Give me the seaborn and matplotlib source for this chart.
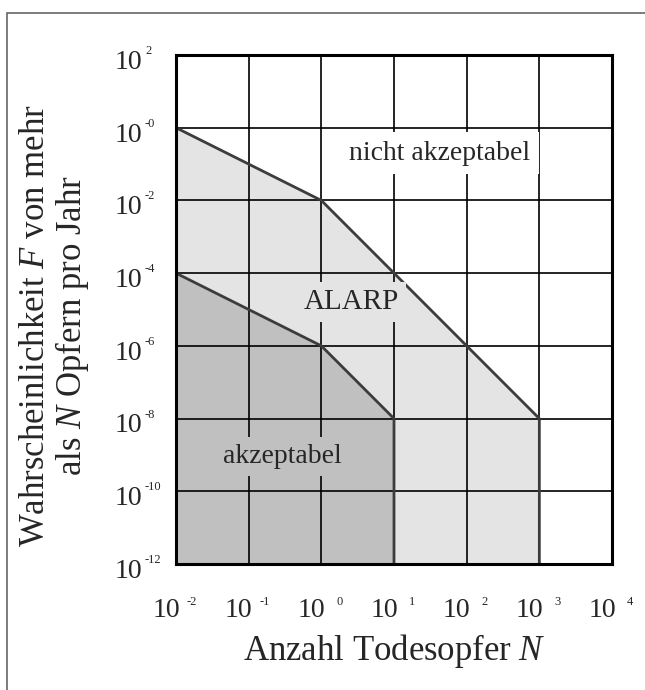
import numpy as np
import matplotlib
matplotlib.use("Agg")
import matplotlib.pyplot as plt
import seaborn as sns
from matplotlib.patches import Rectangle

# Daten: Grenzlinien des F-N-Diagramms
n_obere = [1e-2, 1e0, 1e3, 1e3]
f_obere = [1e0, 1e-2, 1e-8, 1e-12]
n_untere = [1e-2, 1e0, 1e1, 1e1]
f_untere = [1e-4, 1e-6, 1e-8, 1e-12]

x_ticks = [1e-2, 1e-1, 1e0, 1e1, 1e2, 1e3, 1e4]
x_exp = ["-2", "-1", "0", "1", "2", "3", "4"]
y_ticks = [1e2, 1e0, 1e-2, 1e-4, 1e-6, 1e-8, 1e-10, 1e-12]
y_exp = ["2", "-0", "-2", "-4", "-6", "-8", "-10", "-12"]

sns.set_style("white")
plt.rcParams["font.family"] = ["Liberation Serif", "DejaVu Serif"]
plt.rcParams["mathtext.fontset"] = "custom"
plt.rcParams["mathtext.rm"] = "Liberation Serif"
plt.rcParams["mathtext.it"] = "Liberation Serif:italic"

fig = plt.figure(figsize=(6.45, 6.9), dpi=100)
ax = fig.add_axes([176 / 645, 1 - 564 / 690, 436 / 645, 509 / 690])

hell = "#e4e4e4"
dunkel = "#c0c0c0"
linie = "#3c3c3c"

# Flächen
ax.fill_between(n_obere, f_obere, 1e-12, color=hell, lw=0, zorder=1)
ax.fill_between(n_untere, f_untere, 1e-12, color=dunkel, lw=0, zorder=1)

ax.set_xscale("log")
ax.set_yscale("log")
ax.set_xlim(1e-2, 1e4)
ax.set_ylim(1e-12, 1e2)

# Gitter
for xv in x_ticks[1:-1]:
    ax.axvline(xv, color="black", lw=1.2, zorder=2)
for yv in y_ticks[1:-1]:
    ax.axhline(yv, color="black", lw=1.2, zorder=2)

# Grenzlinien
sns.lineplot(x=n_obere, y=f_obere, color=linie, lw=2.0, sort=False,
             estimator=None, ax=ax, zorder=3)
sns.lineplot(x=n_untere, y=f_untere, color=linie, lw=2.0, sort=False,
             estimator=None, ax=ax, zorder=3)

ax.set_xticks(x_ticks)
ax.set_xticklabels([])
ax.set_yticks(y_ticks)
ax.set_yticklabels([])
ax.minorticks_off()
ax.tick_params(length=0)

# Achsenbeschriftungen "10" mit kleinem Exponenten
for xv, e in zip(x_ticks, x_exp):
    ax.annotate("10", xy=(xv, 0), xycoords=("data", "axes fraction"),
                xytext=(2.9, -38.2), textcoords="offset points",
                ha="right", va="baseline", fontsize=20, annotation_clip=False)
    ax.annotate(e, xy=(xv, 0), xycoords=("data", "axes fraction"),
                xytext=(15.1, -29.5), textcoords="offset points",
                ha="right", va="baseline", fontsize=9, annotation_clip=False)
for yv, e in zip(y_ticks, y_exp):
    ax.annotate("10", xy=(0, yv), xycoords=("axes fraction", "data"),
                xytext=(-24.5, -10), textcoords="offset points",
                ha="right", va="baseline", fontsize=20, annotation_clip=False)
    ax.annotate(e, xy=(0, yv), xycoords=("axes fraction", "data"),
                xytext=(-22.3, 0.7), textcoords="offset points",
                ha="left", va="baseline", fontsize=9, annotation_clip=False)

for s in ax.spines.values():
    s.set_visible(True)
    s.set_color("black")
    s.set_linewidth(2.2)
    s.set_zorder(5)

ax.set_xlabel("Anzahl Todesopfer $N$", fontsize=25)
ax.xaxis.label.set_va("center")
ax.xaxis.set_label_coords(0.5, -0.171)
ax.set_ylabel("Wahrscheinlichkeit $F$ von mehr\nals $N$ Opfern pro Jahr",
              fontsize=25, linespacing=1.05, multialignment="center")
ax.yaxis.label.set_va("center")
ax.yaxis.set_label_coords(-0.2775, 0.4676)

# Beschriftungen der Bereiche
ax.text(43, 0.2, "nicht akzeptabel", fontsize=20, ha="center", va="center",
        zorder=4, bbox=dict(boxstyle="square,pad=0.3", fc="white", ec="none"))
ax.text(2.6, 1.6e-5, "ALARP", fontsize=21, ha="center", va="center",
        zorder=4, bbox=dict(boxstyle="square,pad=0.25", fc=hell, ec="none"))
ax.text(0.29, 9e-10, "akzeptabel", fontsize=20, ha="center", va="center",
        zorder=4, bbox=dict(boxstyle="square,pad=0.25", fc=dunkel, ec="none"))

# Rahmen um die Abbildung
fig.patches.append(Rectangle((7 / 645, -0.1), 2, 1.1 - 13 / 690,
                             transform=fig.transFigure, fill=False,
                             ec="#666666", lw=1.2))

fig.savefig("out.png", dpi=100)
